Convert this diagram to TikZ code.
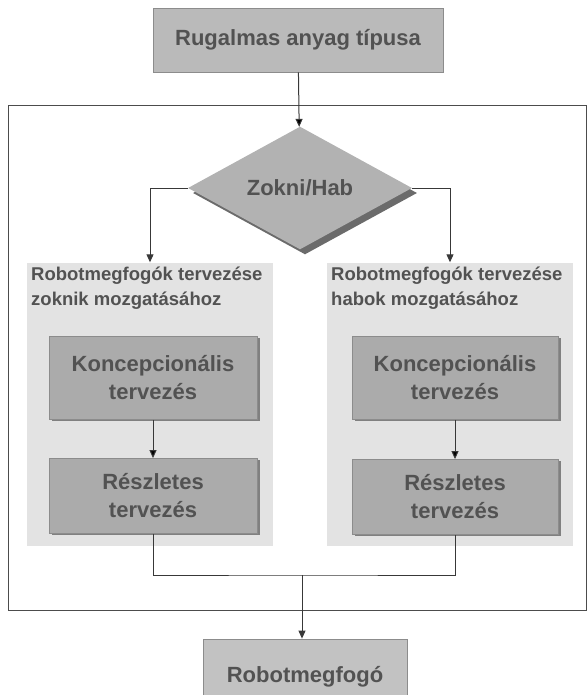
\documentclass[tikz,border=0pt]{standalone}
\usepackage{fontspec}
\setmainfont{Liberation Sans}
\usetikzlibrary{shapes.geometric,arrows.meta,shadows,positioning}

\begin{document}
\begin{tikzpicture}[x=1pt,y=-1pt]
\tikzstyle{block}=[rectangle, draw=black!45, line width=0.8pt, inner sep=0pt,
text=black!68, align=center, font=\fontsize{22}{28}\selectfont\bfseries]
\tikzstyle{step box}=[block, fill=black!33,
drop shadow={shadow xshift=3pt, shadow yshift=-1pt, fill=black!50, opacity=1}]
\tikzstyle{panel}=[rectangle, fill=black!11, inner sep=0pt,
minimum width=246pt, minimum height=283pt]
\tikzstyle{title}=[anchor=north west, inner sep=0pt, align=left, text=black!68,
font=\fontsize{18.5}{25}\selectfont\bfseries]
\tikzstyle{link}=[draw=black!78, line width=1pt, -{Triangle[length=8pt,width=7pt]}]
\tikzstyle{line}=[draw=black!78, line width=1pt]

\useasboundingbox (0,0) rectangle (588,695);
\clip (0,0) rectangle (588,695);

\draw[black!70, line width=0.9pt] (8,105) rectangle (586,610);

\node[block, fill=black!27, minimum width=290pt, minimum height=64pt] at (298,40) (type) {Rugalmas anyag típusa};
\node[diamond, fill=black!30, inner sep=0pt, minimum width=224pt, minimum height=103pt,
text=black!68, font=\fontsize{22}{28}\selectfont\bfseries,
drop shadow={shadow xshift=5pt, shadow yshift=-5pt, fill=black!58, opacity=1}] at (300,188) (choice) {Zokni/Hab};

\node[panel] at (150,404) (zpanel) {};
\node[panel] at (450,404) (hpanel) {};
\node[title] at (31,267) (ztitle) {Robotmegfogók tervezése\\zoknik mozgatásához};
\node[title] at (331,267) (htitle) {Robotmegfogók tervezése\\habok mozgatásához};

\node[step box, minimum width=208pt, minimum height=83pt] at (153,378) (zkonc) {Koncepcionális\\tervezés};
\node[step box, minimum width=208pt, minimum height=75pt] at (153,496) (zresz) {Részletes\\tervezés};
\node[step box, minimum width=206pt, minimum height=83pt] at (455,378) (hkonc) {Koncepcionális\\tervezés};
\node[step box, minimum width=206pt, minimum height=75pt] at (455,497) (hresz) {Részletes\\tervezés};

\node[block, fill=black!24, minimum width=204pt, minimum height=76pt] at (305,677) (gripper) {Robotmegfogó};
\coordinate (joint) at (302,575);

\path[link] (type) edge (choice) ;
\draw[link] (choice.west) -| (zpanel.north) ;
\draw[link] (choice.east) -| (hpanel.north) ;
\path[link] (zkonc) edge (zresz) ;
\path[link] (hkonc) edge (hresz) ;
\draw[line] (zresz.south) |- (joint) -| (hresz.south) ;
\draw[link] (joint) -- (joint |- gripper.north) ;

\end{tikzpicture}
\end{document}
